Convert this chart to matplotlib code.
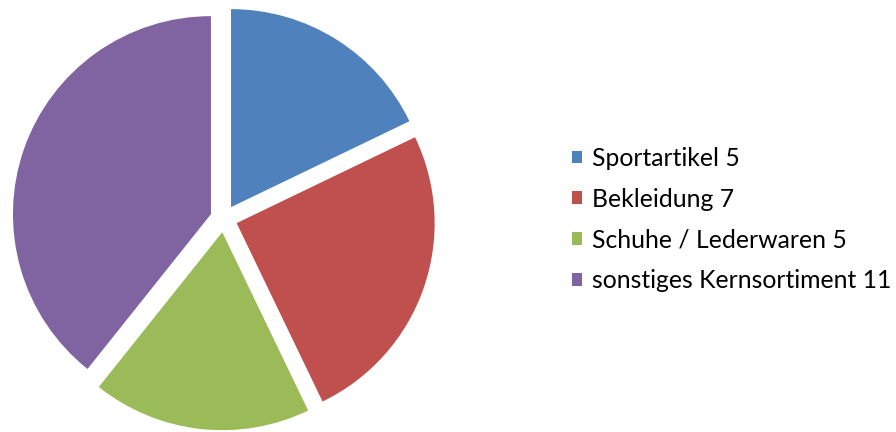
import matplotlib.pyplot as plt

kategorien = ['Sportartikel', 'Bekleidung', 'Schuhe / Lederwaren', 'sonstiges Kernsortiment']
werte = [5, 7, 5, 11]
farben = ['#4F81BD', '#C0504D', '#9BBB59', '#8064A2']

plt.rcParams['font.family'] = ['Lato', 'DejaVu Sans']

fig = plt.figure(figsize=(8.96, 4.32), dpi=100)
# achse so gelegt, dass 1 Einheit ~ 200 px
ax = fig.add_axes([0.002, -0.02, 444 / 896, 444 / 432])

wedges, _ = ax.pie(werte, colors=farben, startangle=90, counterclock=False,
                   explode=[0.068] * len(werte), radius=0.99,
                   wedgeprops=dict(linewidth=0))
# pie setzt eigene Grenzen, daher danach
ax.set_xlim(-1.11, 1.11)
ax.set_ylim(-1.11, 1.11)
ax.set_aspect('equal')
ax.axis('off')

etiketten = [f'{k} {v}' for k, v in zip(kategorien, werte)]
fig.legend(wedges, etiketten, loc='center left', bbox_to_anchor=(0.638, 0.492),
           frameon=False, fontsize=17.8, handlelength=0.42, handleheight=0.42,
           handletextpad=0.42, labelspacing=0.72, borderpad=0, borderaxespad=0)

fig.savefig('out.png', dpi=100)
